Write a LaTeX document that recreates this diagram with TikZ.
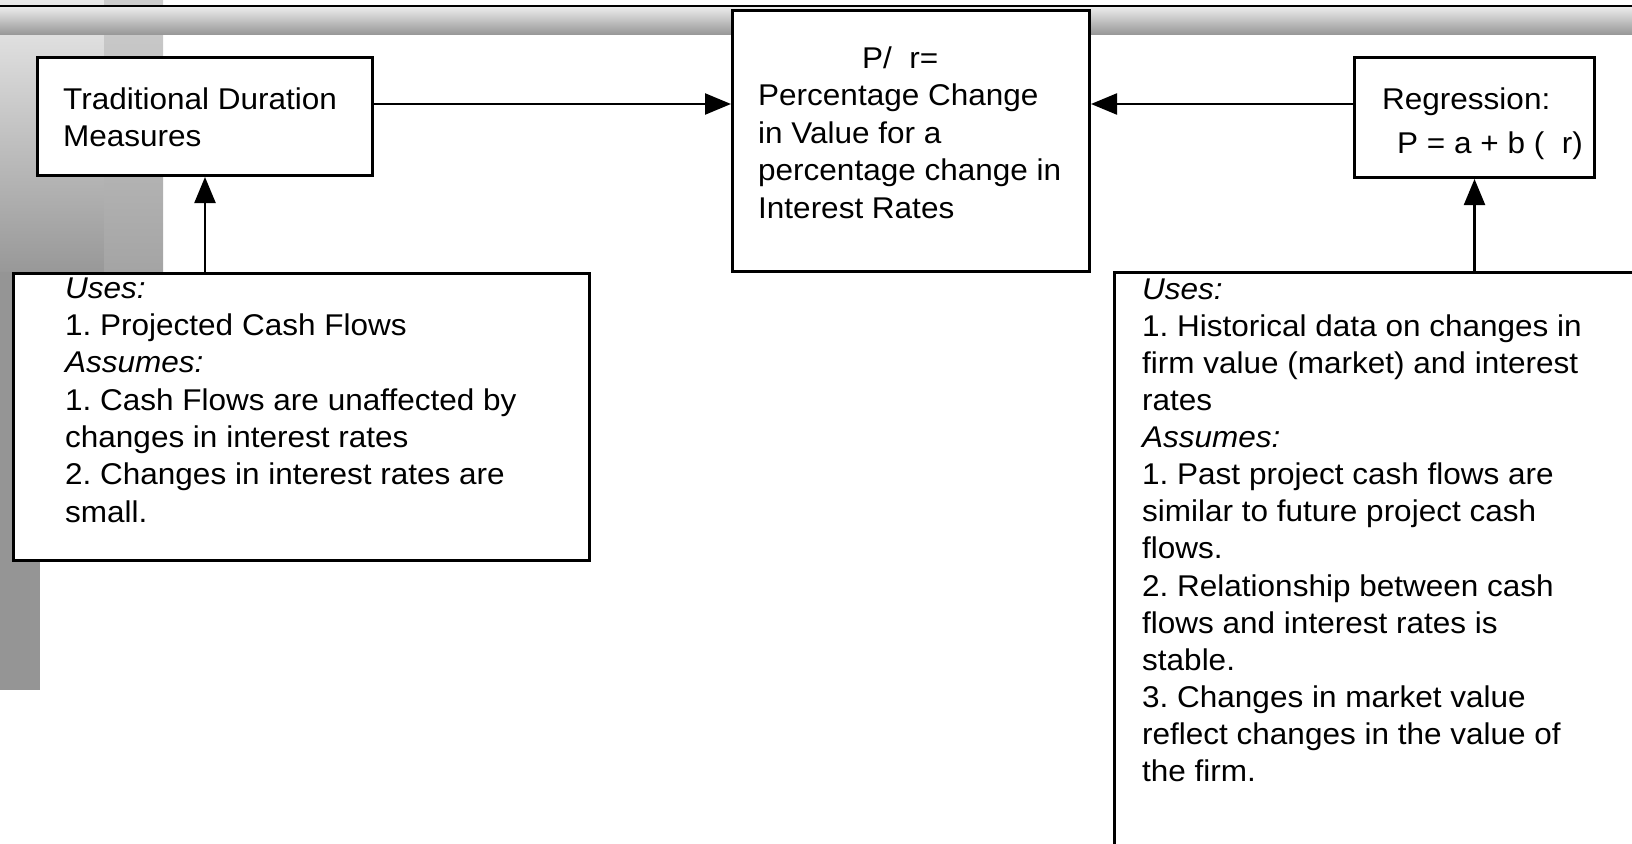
\documentclass[tikz,border=0pt]{standalone}
\usepackage{fontspec}
\setmainfont{Liberation Sans}
\newfontfamily\diafont[FakeStretch=1.05]{Liberation Sans}
\usetikzlibrary{arrows.meta}
\frenchspacing
\definecolor{bandtop}{HTML}{E8E8E8}
\definecolor{bandbot}{HTML}{969696}
\definecolor{stripAtop}{HTML}{EAEAEA}
\definecolor{stripAbot}{HTML}{989898}
\definecolor{stripBtop}{HTML}{CDCDCD}
\definecolor{stripBbot}{HTML}{A4A4A4}
\definecolor{stripC}{HTML}{959595}
\newcommand\firstrule{\rule{0pt}{25pt}}
\begin{document}
\begin{tikzpicture}[x=1pt,y=-1pt,
  box/.style={draw=black, line width=3pt, fill=white, rectangle, inner sep=0pt, anchor=north west},
  txt/.style={anchor=north west, inner sep=0pt, align=left},
  bigtxt/.style={txt, font=\diafont\frenchspacing\fontsize{30}{37}\selectfont},
  smalltxt/.style={txt, font=\diafont\frenchspacing\fontsize{30}{37.3}\selectfont},
  arr/.style={line width=2.3pt, -{Triangle[length=26pt,width=21pt]}}]
\useasboundingbox (0,0) rectangle (1632,843);
\clip (0,0) rectangle (1632,843);
% background decoration
\shade[top color=stripAtop, bottom color=stripAbot] (0,0) rectangle (104,272);
\shade[top color=stripBtop, bottom color=stripBbot] (104,0) rectangle (163,272);
\fill[stripC] (0,272) rectangle (40,690);
\shade[top color=bandtop, bottom color=bandbot] (0,8) rectangle (1632,35);
\draw[line width=2pt] (0,6) -- (1632,6);
% boxes
\node[box, minimum width=335pt, minimum height=118pt] (trad) at (36,56) {};
\node[box, minimum width=357pt, minimum height=261pt] (ctr) at (731,9) {};
\node[box, minimum width=240pt, minimum height=120pt] (reg) at (1353,56) {};
\node[box, minimum width=576pt, minimum height=287pt] (lb) at (12,272) {};
\node[box, minimum width=600pt, minimum height=650pt] (rb) at (1113,271) {};
% texts
\node[bigtxt] (tradtext) at (63,84) {\firstrule Traditional Duration\\Measures};
\node[bigtxt] (regtext) at (1382,84) {\firstrule Regression:\\[7pt]\hspace*{15pt}P = a + b (\ \ r)};
\node[smalltxt, font=\diafont\frenchspacing\fontsize{30}{37.5}\selectfont] (ctrtext) at (758,43)
  {\hspace*{104pt}\firstrule P/\ \ r=\\Percentage Change\\in Value for a\\percentage change in\\Interest Rates};
\node[smalltxt] (lbtext) at (65,273)
  {\firstrule\textit{Uses:}\\1. Projected Cash Flows\\\textit{Assumes:}\\1. Cash Flows are unaffected by\\changes in interest rates\\2. Changes in interest rates are\\small.};
\node[smalltxt, font=\diafont\frenchspacing\fontsize{30}{37.1}\selectfont] (rbtext) at (1142,274)
  {\firstrule\textit{Uses:}\\1. Historical data on changes in\\firm value (market) and interest\\rates\\\textit{Assumes:}\\1. Past project cash flows are\\similar to future project cash\\flows.\\2. Relationship between cash\\flows and interest rates is\\stable.\\3. Changes in market value\\reflect changes in the value of\\the firm.};
% connectors
\coordinate (ay) at (0,104);
\draw[arr] (trad.east |- ay) -- (ctr.west |- ay);
\draw[arr] (reg.west |- ay) -- (ctr.east |- ay);
\draw[arr] (trad.south |- lb.north) -- (trad.south);
\draw[arr] (reg.south |- rb.north) -- (reg.south);
\end{tikzpicture}
\end{document}
